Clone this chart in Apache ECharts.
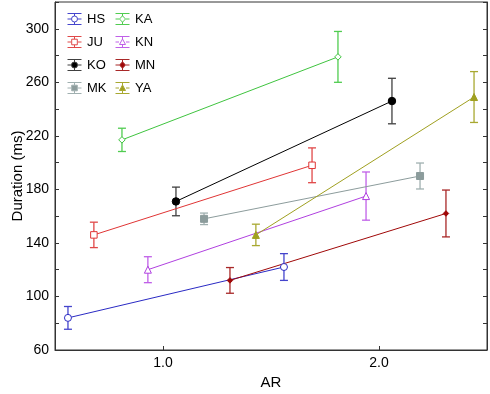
<!DOCTYPE html>
<html>
<head>
<meta charset="utf-8">
<script src="https://cdn.jsdelivr.net/npm/echarts@6/dist/echarts.min.js"></script>
<style>html,body{margin:0;padding:0;background:#fff;}#c{width:490px;height:394px;}</style>
</head>
<body>
<div id="c"></div>
<script>
// Data: [AR, mean duration (ms), error half-width (ms)]
const names = ['HS', 'JU', 'KO', 'MK', 'KA', 'KN', 'MN', 'YA'];
const HS = [[0.56, 84, 8.5], [1.56, 122, 10]];
const JU = [[0.68, 146, 9.5], [1.69, 198, 13]];
const KO = [[1.06, 171, 10.7], [2.06, 246, 17]];
const MK = [[1.19, 158, 4.3], [2.19, 190, 9.7]];
const KA = [[0.81, 217, 8.7], [1.81, 279, 19]];
const KN = [[0.93, 120, 9.7], [1.94, 175, 18]];
const MN = [[1.31, 112, 9.6], [2.31, 162, 17.5]];
const YA = [[1.43, 146, 8], [2.44, 249, 19]];
const xTicks = [1, 2];
const yMin = 60, yMax = 320, yStep = 20, yLabelStep = 40;

const seriesData = {HS, JU, KO, MK, KA, KN, MN, YA};
const colors = {HS:'#2a2ac4', JU:'#e03535', KO:'#000000', MK:'#8c9c9c', KA:'#3fc43f', KN:'#b040e0', MN:'#a00808', YA:'#a0a020'};
const barColors = {HS:'#4444cc', JU:'#e04848', KO:'#404040', MK:'#a0b0b0', KA:'#50cc50', KN:'#c060e8', MN:'#a82828', YA:'#a8a830'};
const symbols = {HS:'circle', JU:'rect', KO:'circle', MK:'rect', KA:'diamond', KN:'triangle', MN:'diamond', YA:'triangle'};
const symSize = {HS:7, JU:6.5, KO:7.5, MK:7, KA:6.5, KN:7, MN:5.5, YA:7};
const hollow = {HS:true, JU:true, KO:false, MK:false, KA:true, KN:true, MN:false, YA:false};

// legend icon paths (errorbar-like glyph with marker)
const base = 'M0 0 L14 0 M0 11 L14 11 M0 5.5 L3.5 5.5 M10.5 5.5 L14 5.5 M7 0 L7 2.5 M7 8.5 L7 11 ';
const markerPath = {
  circle: 'M10 5.5 A3 3 0 1 1 4 5.5 A3 3 0 1 1 10 5.5 Z',
  rect: 'M4.2 2.7 L9.8 2.7 L9.8 8.3 L4.2 8.3 Z',
  diamond: 'M7 2.3 L10 5.5 L7 8.7 L4 5.5 Z',
  triangle: 'M7 2.5 L10 8 L4 8 Z'
};
function legendItem(n){
  return {
    name: n,
    icon: 'path://' + base + markerPath[symbols[n]],
    itemStyle: {color: hollow[n] ? '#ffffff' : colors[n], borderColor: barColors[n], borderWidth: 1}
  };
}

const series = [];
names.forEach(n => {
  const d = seriesData[n];
  series.push({
    name: n,
    type: 'custom',
    xAxisIndex: 0, yAxisIndex: 0,
    data: d.map(p => [p[0], p[1] - p[2], p[1] + p[2]]),
    encode: {x: 0, y: [1, 2]},
    itemStyle: {color: colors[n]},
    renderItem: function(params, api){
      const x = api.value(0);
      const lo = api.coord([x, api.value(1)]);
      const hi = api.coord([x, api.value(2)]);
      const hw = 4;
      const st = {stroke: barColors[n], lineWidth: 1.3, fill: null};
      return {type:'group', children:[
        {type:'line', shape:{x1:lo[0], y1:lo[1], x2:hi[0], y2:hi[1]}, style: st},
        {type:'line', shape:{x1:lo[0]-hw, y1:lo[1], x2:lo[0]+hw, y2:lo[1]}, style: st},
        {type:'line', shape:{x1:hi[0]-hw, y1:hi[1], x2:hi[0]+hw, y2:hi[1]}, style: st}
      ]};
    },
    silent: true, z: 2
  });
  series.push({
    name: n + ' mean',
    type: 'line',
    data: d.map(p => [p[0], p[1]]),
    symbol: symbols[n],
    symbolSize: symSize[n],
    showSymbol: true,
    lineStyle: {color: colors[n], width: 1},
    itemStyle: {color: hollow[n] ? '#ffffff' : colors[n], borderColor: colors[n], borderWidth: 1},
    animation: false, z: 3
  });
});

const font = 'Liberation Sans, Arial, sans-serif';
const legendCommon = {
  orient: 'vertical', top: 12.5, itemWidth: 15, itemHeight: 11, itemGap: 10, padding: 0, selectedMode: false,
  textStyle: {fontFamily: font, fontSize: 13, color: '#000', lineHeight: 12}
};

const chart = echarts.init(document.getElementById('c'));
chart.setOption({
  animation: false,
  backgroundColor: '#ffffff',
  grid: {left: 55, right: 3, top: 2, bottom: 44, show: true, borderColor: '#333', borderWidth: 1, outerBoundsMode: 'none', containLabel: false},
  legend: [
    Object.assign({data: ['HS','JU','KO','MK'].map(legendItem), left: 67}, legendCommon),
    Object.assign({data: ['KA','KN','MN','YA'].map(legendItem), left: 115}, legendCommon)
  ],
  xAxis: {
    type: 'value', min: 0.5, max: 2.5,
    name: 'AR', nameLocation: 'middle', nameGap: 25, nameMoveOverlap: false,
    nameTextStyle: {fontFamily: font, fontSize: 15, color: '#000'},
    axisLine: {show: true, onZero: false, lineStyle: {color: '#333', width: 1}},
    axisTick: {show: true, inside: true, length: 4, customValues: xTicks, lineStyle: {color: '#333'}},
    axisLabel: {customValues: xTicks, formatter: v => v.toFixed(1), fontFamily: font, fontSize: 14, color: '#000', margin: 6},
    splitLine: {show: false}
  },
  yAxis: [{
    type: 'value', min: yMin, max: yMax, interval: yStep,
    name: 'Duration (ms)', nameLocation: 'middle', nameGap: 30, nameMoveOverlap: false,
    nameTextStyle: {fontFamily: font, fontSize: 15, color: '#000'},
    axisLine: {show: true, onZero: false, lineStyle: {color: '#333', width: 1}},
    axisTick: {show: true, inside: true, length: 4, lineStyle: {color: '#333'}},
    axisLabel: {formatter: v => ((v - yMin) % yLabelStep === 0 ? String(v) : ''), fontFamily: font, fontSize: 14, color: '#000', margin: 6},
    splitLine: {show: false}
  }, {
    type: 'value', min: yMin, max: yMax, interval: yStep, position: 'right',
    axisLine: {show: true, onZero: false, lineStyle: {color: '#333', width: 1}},
    axisTick: {show: true, inside: true, length: 4, lineStyle: {color: '#333'}},
    axisLabel: {show: false}, splitLine: {show: false}
  }],
  series: series
});
</script>
</body>
</html>
